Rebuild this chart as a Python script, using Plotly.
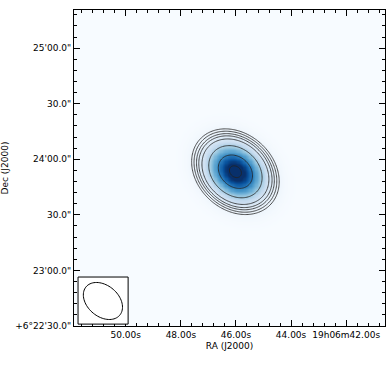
import numpy as np
import plotly.express as px
import plotly.graph_objects as go

# sky frame (RA in seconds of 19h06m, Dec in arcsec above +6d22'00")
ra_range = [51.88, 40.59]
dec_range = [30.0, 200.6]
dec_deg = 6.38

ra_ticks = [50, 48, 46, 44, 42]
ra_labels = ["50.00s", "48.00s", "46.00s", "44.00s", "19h06m42.00s"]
dec_ticks = [30, 60, 90, 120, 150, 180]
dec_labels = ["+6°22'30.0\"", "23'00.0\"", "30.0\"", "24'00.0\"", "30.0\"", "25'00.0\""]

# source model
src_ra = 46.02
src_dec = 113.3
src_peak = 1.0
src_sigma_major = 10.2   # arcsec
src_sigma_minor = 8.05
src_pa = 48.0            # deg, N through E

contour_levels = [0.039, 0.055, 0.077, 0.103, 0.15, 0.30, 0.61, 0.94]

# beam
beam_ra = 50.83
beam_dec = 43.5
beam_major = 11.9        # semi-axes, arcsec
beam_minor = 8.4
beam_pa = 50.0

SEC2ARC = 15 * np.cos(np.radians(dec_deg))
FONT = "DejaVu Sans"
LINE = "#222222"

x = np.linspace(min(ra_range), max(ra_range), 260)
y = np.linspace(dec_range[0], dec_range[1], 260)
X, Y = np.meshgrid(x, y)
u = (src_ra - X) * SEC2ARC
v = Y - src_dec
pa = np.radians(src_pa)
p = -u * np.sin(pa) + v * np.cos(pa)
q = u * np.cos(pa) + v * np.sin(pa)
z = src_peak * np.exp(-0.5 * (p**2 / src_sigma_major**2 + q**2 / src_sigma_minor**2))

fig = go.Figure()
fig.add_trace(go.Heatmap(
    x=x, y=y, z=z, colorscale=px.colors.sequential.Blues,
    zmin=0, zmax=0.88 * src_peak, showscale=False, hoverinfo="skip", zsmooth="best",
))
for lev in contour_levels:
    fig.add_trace(go.Contour(
        x=x, y=y, z=z, showscale=False, hoverinfo="skip",
        colorscale=[[0, LINE], [1, LINE]],
        contours=dict(coloring="lines", start=lev, end=lev, size=1),
        line=dict(color=LINE, width=0.8),
    ))
# dummy trace so the mirrored tick axes get drawn
fig.add_trace(go.Scatter(x=[ra_range[0]], y=[dec_range[0]], xaxis="x2", yaxis="y2",
                         mode="markers", marker=dict(opacity=0), hoverinfo="skip"))

# beam ellipse path
t = np.linspace(0, 2 * np.pi, 80)
bpa = np.radians(beam_pa)
bp = beam_major * np.cos(t)
bq = beam_minor * np.sin(t)
bu = -bp * np.sin(bpa) + bq * np.cos(bpa)
bv = bp * np.cos(bpa) + bq * np.sin(bpa)
bx = beam_ra - bu / SEC2ARC
by = beam_dec + bv
path = "M " + " L ".join(f"{a:.4f},{b:.4f}" for a, b in zip(bx, by)) + " Z"

fig.add_shape(type="rect", xref="paper", yref="paper", x0=0.013, x1=0.174, y0=0.006, y1=0.155,
              fillcolor="white", line=dict(color="black", width=1), layer="above")
fig.add_shape(type="path", xref="x", yref="y", path=path,
              line=dict(color="black", width=1), layer="above")

axis_common = dict(
    showgrid=False, zeroline=False, showline=True, linecolor="black", linewidth=1,
    ticks="inside", ticklen=6, tickcolor="black", tickwidth=1, automargin=False,
    tickfont=dict(family=FONT, size=9, color="black"),
)
x_minor = dict(tick0=40, dtick=0.4, ticks="inside", ticklen=3, tickcolor="black", showgrid=False)
y_minor = dict(tick0=0, dtick=6, ticks="inside", ticklen=3, tickcolor="black", showgrid=False)

fig.update_layout(
    width=392, height=365,
    margin=dict(l=74, r=7, t=10, b=39),
    paper_bgcolor="white", plot_bgcolor="#f7fbff",
    font=dict(family=FONT, size=9, color="black"),
    xaxis=dict(
        range=ra_range, tickmode="array", tickvals=ra_ticks, ticktext=ra_labels,
        title=dict(text="RA (J2000)", font=dict(family=FONT, size=9), standoff=3),
        minor=x_minor, **axis_common,
    ),
    yaxis=dict(
        range=dec_range, tickmode="array", tickvals=dec_ticks, ticktext=dec_labels,
        title=dict(text="Dec (J2000)", font=dict(family=FONT, size=9), standoff=6),
        minor=y_minor, **axis_common,
    ),
    xaxis2=dict(
        range=ra_range, overlaying="x", side="top", anchor="y2", showticklabels=False,
        tickmode="array", tickvals=ra_ticks, minor=x_minor, **axis_common,
    ),
    yaxis2=dict(
        range=dec_range, overlaying="y", side="right", anchor="x2", showticklabels=False,
        tickmode="array", tickvals=dec_ticks, minor=y_minor, **axis_common,
    ),
    showlegend=False,
)

fig.write_html("out.html", config={"displayModeBar": False},
               post_script="document.body.style.margin='0';")
